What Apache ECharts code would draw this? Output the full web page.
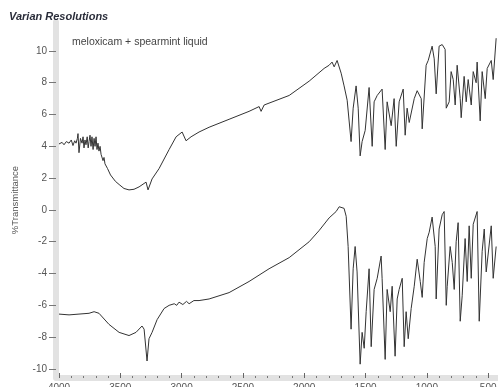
<!DOCTYPE html>
<html>
<head>
<meta charset="utf-8">
<script src="https://cdn.jsdelivr.net/npm/echarts@6/dist/echarts.min.js"></script>
<style>html,body{margin:0;padding:0;background:#fff;}#c{width:498px;height:387px;}</style>
</head>
<body>
<div id="c"></div>
<script>
const titleText = 'Varian Resolutions';
const sampleText = 'meloxicam + spearmint liquid';
const yAxisName = '%Transmittance';
const xTickValues = [4000, 3500, 3000, 2500, 2000, 1500, 1000, 500];
const xMinorTickValues = [3900,3800,3700,3600,3400,3300,3200,3100,2900,2800,2700,2600,2400,2300,2200,2100,1900,1800,1700,1600,1400,1300,1200,1100,900,800,700,600];
const yTickValues = [-10, -8, -6, -4, -2, 0, 2, 4, 6, 8, 10];

// [wavenumber cm-1, %T offset]
const upperSpectrum = [
[4000,4.15],[3975,4.25],[3959,4.1],[3940,4.3],[3918,4.2],[3900,4.4],[3886,4.05],[3872,4.35],[3861,4.2],[3850,4.5],
[3845,4.8],[3837,3.6],[3825,4.5],[3812,4.2],[3804,4.6],[3796,3.9],[3788,4.4],[3780,4.1],[3770,4.6],[3762,3.9],
[3755,4.3],[3747,4.7],[3739,4.0],[3731,4.6],[3722,3.8],[3714,4.5],[3706,4.0],[3698,4.6],[3690,3.8],[3682,4.2],
[3674,3.7],[3665,4.0],[3657,3.5],[3649,3.6],[3641,3.1],[3633,3.3],[3625,2.9],[3616,3.0],[3604,2.6],[3592,2.5],
[3580,2.2],[3568,2.15],[3540,1.8],[3510,1.6],[3470,1.35],[3429,1.26],[3388,1.3],[3347,1.45],[3290,1.75],[3274,1.26],
[3241,1.95],[3184,2.6],[3102,3.8],[3045,4.6],[2996,4.9],[2964,4.35],[2923,4.6],[2858,4.9],[2776,5.2],[2613,5.7],
[2450,6.2],[2368,6.5],[2352,6.2],[2327,6.6],[2123,7.2],[1960,8.1],[1838,8.9],[1797,9.1],[1773,9.3],[1756,9.0],
[1732,9.4],[1699,8.6],[1675,7.8],[1650,6.9],[1618,4.3],[1601,6.4],[1577,7.8],[1560,6.4],[1544,3.4],[1528,4.3],
[1503,5.0],[1471,7.7],[1446,4.0],[1430,6.8],[1405,7.2],[1365,7.6],[1340,3.8],[1324,6.8],[1291,5.3],[1267,7.0],
[1250,4.0],[1226,6.8],[1193,7.6],[1177,4.7],[1161,6.4],[1144,5.5],[1103,7.0],[1079,7.5],[1046,7.0],[1038,5.1],
[1006,9.1],[989,9.4],[957,10.3],[940,9.5],[924,7.3],[900,10.3],[875,10.4],[851,10.1],[842,6.4],[818,6.8],
[802,8.7],[785,8.2],[769,6.6],[753,9.1],[728,7.0],[720,5.8],[696,8.4],[679,6.8],[663,8.2],[638,6.6],
[622,8.7],[598,8.0],[590,9.3],[565,5.6],[549,8.7],[524,7.0],[508,8.9],[475,9.4],[459,8.2],[435,10.8]
];

const lowerSpectrum = [
[4000,-6.55],[3918,-6.6],[3837,-6.55],[3755,-6.5],[3714,-6.4],[3674,-6.5],[3592,-7.2],[3510,-7.7],[3429,-7.9],[3372,-7.7],
[3323,-7.3],[3306,-7.5],[3282,-9.5],[3266,-8.1],[3241,-7.7],[3200,-6.9],[3143,-6.2],[3102,-6.0],[3060,-5.9],[3040,-6.0],
[3021,-5.8],[2990,-5.95],[2960,-5.75],[2939,-5.9],[2900,-5.7],[2858,-5.7],[2776,-5.6],[2613,-5.2],[2450,-4.5],[2287,-3.7],
[2123,-3.0],[1960,-2.0],[1879,-1.3],[1797,-0.5],[1740,-0.1],[1715,0.2],[1675,0.1],[1658,-0.4],[1642,-2.3],[1618,-7.5],
[1601,-3.7],[1585,-2.3],[1569,-3.9],[1544,-9.7],[1528,-7.7],[1511,-8.7],[1495,-6.4],[1471,-3.7],[1454,-8.6],[1430,-5.0],
[1405,-4.3],[1373,-2.9],[1365,-4.3],[1340,-9.4],[1324,-5.0],[1299,-6.4],[1283,-4.8],[1259,-9.2],[1242,-5.6],[1226,-5.0],
[1201,-4.3],[1185,-8.6],[1169,-6.4],[1152,-8.1],[1128,-6.2],[1103,-4.8],[1079,-3.1],[1054,-4.5],[1038,-5.5],[1022,-3.3],
[997,-1.8],[981,-1.4],[957,-0.45],[932,-2.3],[924,-5.6],[900,-1.2],[875,-0.3],[859,-0.1],[842,-6.0],[834,-4.8],
[810,-2.3],[793,-3.3],[777,-5.0],[761,-2.0],[745,-0.8],[728,-7.0],[712,-5.4],[688,-1.8],[671,-4.5],[655,-1.0],
[638,-4.3],[622,-0.9],[590,-0.1],[573,-7.0],[549,-2.6],[532,-1.2],[516,-3.9],[475,-1.0],[459,-4.3],[435,-2.3]
];

const chart = echarts.init(document.getElementById('c'), null, {renderer: 'canvas'});
const fontFam = '"Liberation Sans", Arial, sans-serif';
const xBase = {
  type: 'value', min: 428, max: 4000, inverse: true, position: 'bottom',
  splitLine: {show: false}
};
chart.setOption({
  backgroundColor: '#fff',
  animation: false,
  title: [
    {text: titleText, left: 4, top: 6, textStyle: {fontFamily: fontFam, fontSize: 11, fontWeight: 'bold', fontStyle: 'italic', color: '#2a2d3a'}},
    {text: sampleText, left: 67, top: 32, textStyle: {fontFamily: fontFam, fontSize: 10.5, fontWeight: 'normal', color: '#444'}}
  ],
  grid: {left: 59, right: 1, top: 22, bottom: 9, containLabel: false, outerBoundsMode: 'none'},
  xAxis: [
    Object.assign({}, xBase, {
      axisLine: {show: true, onZero: false, lineStyle: {color: '#e2e2e2', width: 6}},
      axisTick: {show: true, inside: true, length: 5, customValues: xTickValues, lineStyle: {color: '#666', width: 1}},
      axisLabel: {show: true, customValues: xTickValues, margin: 5, fontFamily: fontFam, fontSize: 10, color: '#555',
        formatter: function (v) { return String(v); }}
    }),
    Object.assign({}, xBase, {
      axisLine: {show: false, onZero: false},
      axisTick: {show: true, inside: true, length: 2, customValues: xMinorTickValues, lineStyle: {color: '#777', width: 1}},
      axisLabel: {show: false}
    })
  ],
  yAxis: {
    type: 'value', min: -10.57, max: 11.82, offset: 3,
    name: yAxisName, nameLocation: 'middle', nameGap: 36, nameRotate: 90,
    nameTextStyle: {fontFamily: fontFam, fontSize: 9.5, color: '#555'},
    splitLine: {show: false},
    axisLine: {show: true, onZero: false, lineStyle: {color: '#e2e2e2', width: 6}},
    axisTick: {show: true, length: 7, customValues: yTickValues, lineStyle: {color: '#777', width: 1}},
    axisLabel: {customValues: yTickValues, margin: 9, fontFamily: fontFam, fontSize: 10, color: '#555'}
  },
  series: [
    {type: 'line', data: upperSpectrum, showSymbol: false, symbol: 'none', lineStyle: {color: '#333', width: 1}, xAxisIndex: 0},
    {type: 'line', data: lowerSpectrum, showSymbol: false, symbol: 'none', lineStyle: {color: '#333', width: 1}, xAxisIndex: 0}
  ]
});
</script>
</body>
</html>
